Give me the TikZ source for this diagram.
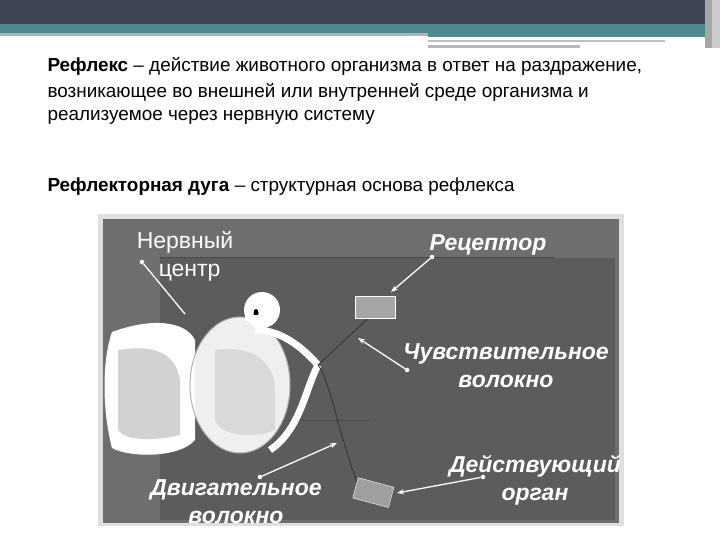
\documentclass[tikz,border=0pt]{standalone}
\usepackage{fontspec}
\setmainfont{Liberation Sans}
\usetikzlibrary{arrows.meta}
\definecolor{slate}{HTML}{3F4555}
\definecolor{teal1}{HTML}{4A8A90}
\definecolor{panel}{HTML}{6E6E6E}
\definecolor{inner}{HTML}{5C5C5C}
\begin{document}
\begin{tikzpicture}[x=1pt,y=-1pt,
  body/.style={anchor=west,font=\fontsize{18.9}{20}\selectfont},
  lab/.style={text=white,font=\fontsize{23}{28}\selectfont\bfseries\itshape},
  ptr/.style={white,line width=1.3pt,-{Stealth[length=7pt]}},
  dot/.style={circle,fill=white,inner sep=1.6pt}]
\useasboundingbox (0,0) rectangle (720,540);
% header
\fill[slate] (0,0) rectangle (720,24);
\fill[teal1] (0,24) rectangle (720,33);
\fill[gray!60] (0,33) rectangle (428,36);
\fill[teal1!80!gray] (428,33) rectangle (705,37);
\fill[gray!50] (428,40) rectangle (665,42);
\fill[gray!55] (428,45) rectangle (580,48);
\fill[gray!70] (705,0) rectangle (712,48);
\fill[gray!40] (712,0) rectangle (720,48);
% text
\node[body] (t1) at (44,66) {\textbf{Рефлекс} – действие животного организма в ответ на раздражение,};
\node[body] (t2) at (44,92) {возникающее во внешней или внутренней среде организма и};
\node[body] (t3) at (44,117) {реализуемое через нервную систему};
\node[body] (t4) at (44,187) {\textbf{Рефлекторная дуга} – структурная основа рефлекса};
% panel
\fill[gray!25] (98,214) rectangle (624,528);
\fill[panel] (103,219) rectangle (619,523);
\fill[inner] (160,258) rectangle (615,520);
\draw[black!70,line width=1pt] (160,257) -- (555,257);
\draw[black!70,line width=1pt] (260,420) -- (370,420);
% spinal cord
\fill[white] (112,332) .. controls (150,318) and (185,320) .. (195,340)
  -- (195,440) .. controls (180,458) and (130,458) .. (112,448) .. controls (102,410) and (102,360) .. (112,332) -- cycle;
\fill[gray!35] (118,350) .. controls (150,345) and (175,350) .. (180,380) -- (180,435) .. controls (150,442) and (125,440) .. (118,430) -- cycle;
\fill[white,opacity=.9] (240,385) ellipse (50pt and 68pt);
\fill[gray!30] (215,350) .. controls (250,345) and (275,360) .. (275,390) -- (275,430) .. controls (250,440) and (220,435) .. (215,420) -- cycle;
\draw[gray!60,line width=1pt] (240,385) ellipse (50pt and 68pt);
% roots and ganglion
\draw[white,line width=7pt] (255,330) .. controls (280,330) and (300,345) .. (318,365);
\draw[white,line width=7pt] (270,450) .. controls (300,430) and (305,390) .. (318,365);
\fill[white] (262,310) circle (18pt);
\fill[black] (256,313) ellipse (2.5pt and 4pt);
\draw[white,line width=6pt] (245,318) -- (262,318);
% fibres
\draw[black!80,line width=.8pt] (318,365) -- (375,312);
\draw[black!80,line width=.8pt] (318,365) .. controls (330,380) and (340,440) .. (360,490);
% receptor and organ
\fill[gray!70] (355,296) rectangle (395,318);
\draw[white,line width=.5pt] (355,296) rectangle (395,318);
\fill[gray!75,rotate around={-15:(373,492)}] (355,482) rectangle (392,503);
\draw[white,rotate around={-15:(373,492)}] (355,482) rectangle (392,503);
% labels
\node[text=white,font=\fontsize{23}{28}\selectfont,align=left] (nc) at (185,256) {Нервный\\\hspace{22pt}центр};
\node[lab] (rec) at (488,245) {Рецептор};
\node[lab,align=center] (sens) at (506,366) {Чувствительное\\волокно};
\node[lab,align=center] (eff) at (535,480) {Действующий\\орган};
\node[lab,align=center] (mot) at (236,502) {Двигательное\\волокно};
% pointers
\node[dot] (d1) at (142,262) {}; \coordinate (e1) at (185,314);
\draw[white,line width=1.3pt] (d1) -- (e1);
\node[dot] (d2) at (432,257) {}; \coordinate (e2) at (391,292);
\draw[ptr] (d2) -- (e2);
\node[dot] (d3) at (407,370) {}; \coordinate (e3) at (358,338);
\draw[ptr] (d3) -- (e3);
\node[dot] (d4) at (260,477) {}; \coordinate (e4) at (337,443);
\draw[ptr] (d4) -- (e4);
\node[dot] (d5) at (483,477) {}; \coordinate (e5) at (397,493);
\draw[ptr] (d5) -- (e5);
\fill[white] (0,526) rectangle (720,540);
\end{tikzpicture}
\end{document}
